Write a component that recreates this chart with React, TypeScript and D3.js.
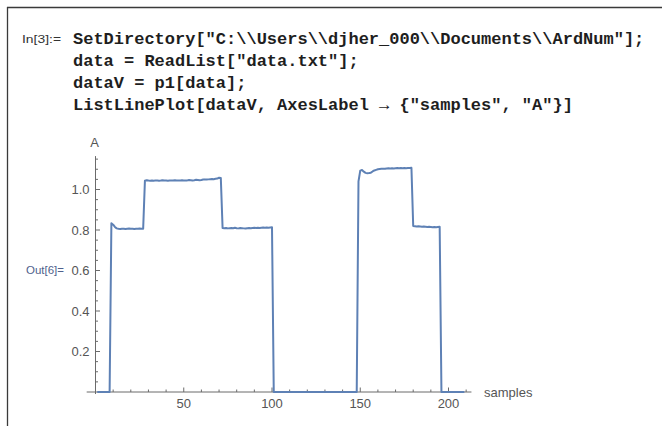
import React from "react";
import * as d3 from "d3";

// ---- Data ----
const codeLines: string[] = [
  'SetDirectory["C:\\\\Users\\\\djher_000\\\\Documents\\\\ArdNum"];',
  'data = ReadList["data.txt"];',
  'dataV = p1[data];',
  'ListLinePlot[dataV, AxesLabel \u2192 {"samples", "A"}]',
];
const inLabel = "In[3]:=";
const outLabel = "Out[6]=";
const xAxisLabel = "samples";
const yAxisLabel = "A";

const xMajorTicks: number[] = [50, 100, 150, 200];
const xMinorTicks: number[] = [10, 20, 30, 40, 60, 70, 80, 90, 110, 120, 130, 140, 160, 170, 180, 190, 210];
const yMajorTicks: number[] = [0.2, 0.4, 0.6, 0.8, 1.0];
const yMinorTicks: number[] = [0.05, 0.1, 0.15, 0.25, 0.3, 0.35, 0.45, 0.5, 0.55, 0.65, 0.7, 0.75, 0.85, 0.9, 0.95, 1.05, 1.1, 1.15];

// samples 1..210
const dataV: number[] = [
  0, 0, 0, 0, 0, 0, 0, 0, 0.833, 0.826,
  0.815, 0.808, 0.806, 0.805, 0.806, 0.806, 0.805, 0.806, 0.807, 0.806,
  0.806, 0.805, 0.806, 0.806, 0.807, 0.806, 0.806, 1.043, 1.046, 1.044,
  1.043, 1.044, 1.043, 1.045, 1.044, 1.043, 1.044, 1.046, 1.045, 1.044,
  1.043, 1.044, 1.045, 1.044, 1.046, 1.045, 1.044, 1.045, 1.046, 1.045,
  1.044, 1.045, 1.047, 1.046, 1.045, 1.046, 1.048, 1.047, 1.046, 1.047,
  1.049, 1.05, 1.049, 1.05, 1.051, 1.052, 1.051, 1.053, 1.054, 1.058,
  1.057, 0.81, 0.809, 0.81, 0.808, 0.809, 0.81, 0.809, 0.811, 0.809,
  0.808, 0.81, 0.809, 0.808, 0.807, 0.809, 0.81, 0.809, 0.81, 0.811,
  0.81, 0.811, 0.81, 0.811, 0.812, 0.811, 0.812, 0.811, 0.812, 0.813,
  0, 0, 0, 0, 0, 0, 0, 0, 0, 0, 0, 0,
  0, 0, 0, 0, 0, 0, 0, 0, 0, 0, 0, 0,
  0, 0, 0, 0, 0, 0, 0, 0, 0, 0, 0, 0,
  0, 0, 0, 0, 0, 0, 0, 0, 0, 0, 0, 0,
  1.04, 1.093, 1.096, 1.088, 1.082, 1.08, 1.081, 1.083, 1.089, 1.094,
  1.097, 1.1, 1.101, 1.102, 1.103, 1.102, 1.104, 1.105, 1.104, 1.105,
  1.104, 1.105, 1.106, 1.105, 1.106, 1.105, 1.106, 1.105, 1.106, 1.106,
  1.107, 0.82, 0.818, 0.817, 0.818, 0.817, 0.816, 0.817, 0.816, 0.815,
  0.816, 0.815, 0.814, 0.815, 0.814, 0.815, 0.816,
  0, 0, 0, 0, 0, 0, 0, 0, 0, 0, 0, 0, 0, 0,
];

const W = 662;
const H = 426;

export default function App() {
  const x = d3.scaleLinear().domain([0, 200]).range([95.5, 448.5]);
  const y = d3.scaleLinear().domain([0, 1]).range([392, 189.5]);

  const pts: [number, number][] = dataV.map((v, i) => [i + 1, v]);
  const line = d3
    .line<[number, number]>()
    .x((d) => x(d[0]))
    .y((d) => y(d[1]));

  const axisColor = "#6b6b6b";
  const labelColor = "#555555";
  const sans = "'Liberation Sans', Arial, sans-serif";
  const mono = "'Liberation Mono', 'Courier New', monospace";

  const x0 = x(0);
  const y0 = y(0);

  return (
    <svg
      width={W}
      height={H}
      style={{ position: "absolute", left: 0, top: 0, background: "#fff" }}
    >
      <rect x={0} y={0} width={W} height={H} fill="#fff" />
      {/* cell frame */}
      <line x1={7} y1={7.5} x2={W} y2={7.5} stroke="#3a3a3a" strokeWidth={1.3} />
      <line x1={7.5} y1={7} x2={7.5} y2={H} stroke="#3a3a3a" strokeWidth={1.3} />

      {/* input cell */}
      <text x={22} y={43} fontFamily={sans} fontSize={10} fill="#333" textLength={39} lengthAdjust="spacingAndGlyphs">
        {inLabel}
      </text>
      {codeLines.map((t, i) => (
        <text
          key={i}
          x={73}
          y={44 + i * 22}
          fontFamily={mono}
          fontWeight="bold"
          fontSize={17}
          fill="#1e1e1e"
          xmlSpace="preserve"
          style={{ whiteSpace: "pre" }}
        >
          {t}
        </text>
      ))}

      {/* output label */}
      <text x={26} y={274} fontFamily={sans} fontSize={10.5} fill="#4f5f8c" textLength={38} lengthAdjust="spacingAndGlyphs">
        {outLabel}
      </text>

      {/* axes */}
      <line x1={x(-5)} y1={y0} x2={x(213)} y2={y0} stroke={axisColor} strokeWidth={1} />
      <line x1={x0} y1={y(-0.01)} x2={x0} y2={y(1.165)} stroke={axisColor} strokeWidth={1} />

      {xMajorTicks.map((t) => (
        <g key={"xM" + t}>
          <line x1={x(t)} x2={x(t)} y1={y0} y2={y0 - 4.5} stroke={axisColor} />
          <text x={x(t)} y={408} textAnchor="middle" fontFamily={sans} fontSize={13} fill={labelColor}>
            {t}
          </text>
        </g>
      ))}
      {xMinorTicks.map((t) => (
        <line key={"xm" + t} x1={x(t)} x2={x(t)} y1={y0} y2={y0 - 2.5} stroke={axisColor} />
      ))}
      {yMajorTicks.map((t) => (
        <g key={"yM" + t}>
          <line x1={x0} x2={x0 + 4.5} y1={y(t)} y2={y(t)} stroke={axisColor} />
          <text x={89.5} y={y(t) + 4.6} textAnchor="end" fontFamily={sans} fontSize={13} fill={labelColor}>
            {t.toFixed(1)}
          </text>
        </g>
      ))}
      {yMinorTicks.map((t) => (
        <line key={"ym" + t} x1={x0} x2={x0 + 2.5} y1={y(t)} y2={y(t)} stroke={axisColor} />
      ))}

      <text x={484} y={396.5} fontFamily={sans} fontSize={13} fill={labelColor}>
        {xAxisLabel}
      </text>
      <text x={94.5} y={146.5} textAnchor="middle" fontFamily={sans} fontSize={13} fill={labelColor}>
        {yAxisLabel}
      </text>

      {/* data line */}
      <path
        d={line(pts) || ""}
        fill="none"
        stroke="#5E81B5"
        strokeWidth={2}
        strokeLinejoin="round"
      />
    </svg>
  );
}
